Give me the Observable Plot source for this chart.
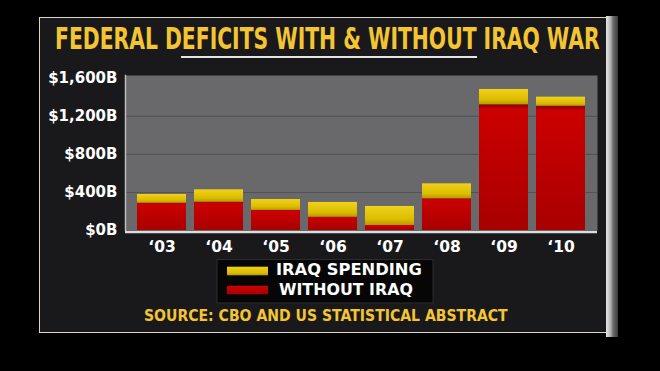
<!DOCTYPE html>
<html>
<head>
<meta charset="utf-8">
<script src="https://cdn.jsdelivr.net/npm/d3@7"></script>
<script src="https://cdn.jsdelivr.net/npm/@observablehq/plot@0.6"></script>
<style>
  html, body { margin: 0; padding: 0; background: #000; }
  #page { position: relative; width: 660px; height: 371px; background: #000; overflow: hidden; }
  #panel { position: absolute; left: 39px; top: 17px; width: 567px; height: 316px;
           background: #19191b; border-top: 1.5px solid #ddd8bc; border-left: 1.5px solid #ddd8bc;
           border-bottom: 1.5px solid #ddd8bc; box-sizing: border-box; }
  #rbar { position: absolute; left: 606px; top: 16px; width: 12px; height: 321px;
          background: linear-gradient(to right, #e6e6e6 0%, #b8b8b8 35%, #6a6a6a 60%, #3a3a3a 100%); }
  #chart { position: absolute; left: 0; top: 62px; }
  .ov { position: absolute; left: 0; top: 0; }
</style>
</head>
<body>
<svg width="0" height="0" style="position:absolute">
  <defs>
    <linearGradient id="gRed" x1="0" y1="0" x2="0" y2="1">
      <stop offset="0" stop-color="#8a0000"/>
      <stop offset="0.04" stop-color="#cc0000"/>
      <stop offset="1" stop-color="#a80000"/>
    </linearGradient>
    <linearGradient id="gYel" x1="0" y1="0" x2="0" y2="1">
      <stop offset="0" stop-color="#efd21a"/>
      <stop offset="0.7" stop-color="#dcbc00"/>
      <stop offset="1" stop-color="#b89a00"/>
    </linearGradient>
  </defs>
</svg>
<div id="page">
  <div id="panel"></div>
  <div id="rbar"></div>
  <div id="chart"></div>
  <svg class="ov" width="660" height="371" id="overlay"></svg>
</div>
<script>
// ---- data ----
const years = ["\u201803", "\u201804", "\u201805", "\u201806", "\u201807", "\u201808", "\u201809", "\u201810"];
const withoutIraq = [287, 298, 211, 140, 53, 334, 1323, 1308];
const iraqSpending = [92, 130, 115, 155, 200, 157, 161, 95];
const seriesNames = ["WITHOUT IRAQ", "IRAQ SPENDING"];
const seriesColors = ["url(#gRed)", "url(#gYel)"];
const yTicks = [0, 400, 800, 1200, 1600];
const yTickLabels = ["$0B", "$400B", "$800B", "$1,200B", "$1,600B"];
const gridValues = [400, 800, 1200];
const titleText = "FEDERAL DEFICITS WITH & WITHOUT IRAQ WAR";
const sourceText = "SOURCE: CBO AND US STATISTICAL ABSTRACT";

const rows = [];
years.forEach((yr, i) => {
  rows.push({year: yr, series: seriesNames[0], value: withoutIraq[i]});
  rows.push({year: yr, series: seriesNames[1], value: iraqSpending[i]});
});

const chart = Plot.plot({
  width: 620,
  height: 200,
  marginLeft: 125,
  marginRight: 23,
  marginTop: 13,
  marginBottom: 32,
  style: {background: "transparent", color: "#ffffff", fontFamily: "DejaVu Sans", fontWeight: "bold", overflow: "visible"},
  x: {domain: years, padding: 0.14, label: null},
  y: {domain: [0, 1631], label: null},
  color: {domain: seriesNames, range: seriesColors},
  marks: [
    Plot.frame({fill: "#69696c"}),
    Plot.ruleY(gridValues, {stroke: "#545457", strokeWidth: 1.2}),
    Plot.frame({anchor: "left", stroke: "#bdbdbd", strokeWidth: 1.5}),
    Plot.barY(rows, {x: "year", y: "value", fill: "series"}),
    Plot.ruleY([0], {stroke: "#dcdcdc", strokeWidth: 2.5, dy: 1.5}),
    Plot.axisX({tickSize: 0, tickPadding: 10, fontSize: 15.5, fill: "#ffffff", label: null}),
    Plot.axisY({ticks: yTicks, tickFormat: d => yTickLabels[yTicks.indexOf(d)], tickSize: 0, tickPadding: 8, fontSize: 15, fill: "#ffffff", label: null})
  ]
});
document.getElementById("chart").appendChild(chart);

// ---- overlay: title, underline, legend, source ----
const ov = d3.select("#overlay");

// text fitted to a target width by a horizontal scale transform
function fitText(str, x, y, width, opts) {
  const t = ov.append("text")
    .attr("font-family", opts.family).attr("font-weight", "bold")
    .attr("font-size", opts.size).attr("fill", opts.fill)
    .text(str);
  if (opts.stretch) t.attr("font-stretch", opts.stretch);
  const natural = t.node().getComputedTextLength();
  const sx = natural > 0 ? width / natural : 1;
  t.attr("transform", `translate(${x},${y}) scale(${sx},1)`);
  return t;
}

fitText(titleText, 55, 49, 545, {family: "'DejaVu Sans Condensed', 'DejaVu Sans', sans-serif", stretch: "condensed", size: 30, fill: "#f4c533"});
ov.append("line")
  .attr("x1", 181).attr("x2", 477).attr("y1", 57).attr("y2", 57)
  .attr("stroke", "#e4e4e4").attr("stroke-width", 1.8);

// legend
ov.append("rect").attr("x", 217).attr("y", 259.5).attr("width", 216).attr("height", 43.5)
  .attr("fill", "#060606").attr("stroke", "#2c2c2c").attr("stroke-width", 1);
const legendOrder = [1, 0];
const legendText = [{x: 276, y: 274.5, len: 146}, {x: 279, y: 294.5, len: 134}];
const swY = [266.7, 285.7];
legendOrder.forEach((si, k) => {
  ov.append("rect").attr("x", 227).attr("y", swY[k]).attr("width", 41).attr("height", 8.6)
    .attr("fill", seriesColors[si]);
  fitText(seriesNames[si], legendText[k].x, legendText[k].y, legendText[k].len, {family: "DejaVu Sans", size: 15, fill: "#ffffff"});
});

// source
fitText(sourceText, 144, 320.7, 364, {family: "DejaVu Sans", size: 15, fill: "#f4c533"});
</script>
</body>
</html>
